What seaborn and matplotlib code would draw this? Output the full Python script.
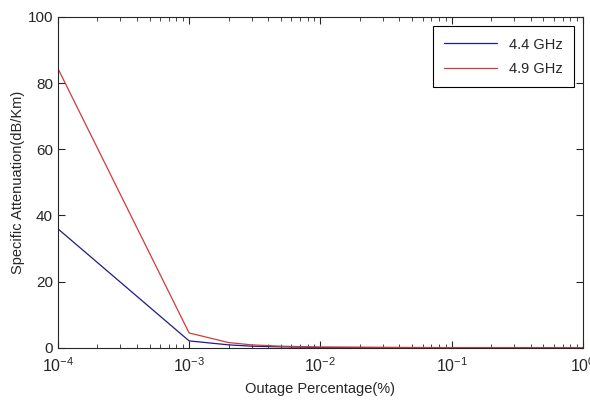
import numpy as np
import pandas as pd
import matplotlib
matplotlib.use("Agg")
import matplotlib.pyplot as plt
import seaborn as sns
from matplotlib.ticker import LogLocator, FixedLocator

outage = [1e-4, 1e-3, 2e-3, 3e-3, 5e-3, 1e-2, 1e-1, 1.0]
att_44 = [36.0, 2.1, 0.9, 0.5, 0.3, 0.12, 0.03, 0.01]
att_49 = [84.5, 4.5, 1.6, 0.9, 0.5, 0.25, 0.06, 0.02]
labels = ["4.4 GHz", "4.9 GHz"]
colors = ["#1c1c8a", "#d23a3a"]

df = pd.concat([
    pd.DataFrame({"x": outage, "y": att_44, "f": labels[0]}),
    pd.DataFrame({"x": outage, "y": att_49, "f": labels[1]}),
])

sns.set_style("ticks")
plt.rcParams["font.family"] = ["Liberation Sans", "DejaVu Sans"]
plt.rcParams["mathtext.default"] = "regular"

fig = plt.figure(figsize=(5.9, 4.04), dpi=100)
ax = fig.add_axes([0.098, 0.139, 0.890, 0.819])
sns.lineplot(data=df, x="x", y="y", hue="f", palette=colors, ax=ax,
             linewidth=0.9, estimator=None, sort=False)
ax.set_xscale("log")
ax.set_xlim(1e-4, 1)
ax.set_ylim(0, 100)
ax.set_yticks([0, 20, 40, 60, 80, 100])
ax.xaxis.set_major_locator(FixedLocator([1e-4, 1e-3, 1e-2, 1e-1, 1]))
ax.xaxis.set_minor_locator(LogLocator(base=10, subs=np.arange(2, 10)))
ax.tick_params(which="both", direction="in", top=True, right=True, labelsize=11)
ax.tick_params(axis="x", which="major", pad=6, labelsize=11.5)
ax.tick_params(which="major", length=5)
ax.tick_params(which="minor", length=3)
for s in ax.spines.values():
    s.set_linewidth(0.8)
ax.set_xlabel("Outage Percentage(%)", fontsize=10.5, labelpad=5)
ax.set_ylabel("Specific Attenuation(dB/Km)", fontsize=10.5, labelpad=2)
leg = ax.legend(loc="upper right", fontsize=10.5, frameon=True, fancybox=False,
                edgecolor="black", framealpha=1, borderpad=0.8, labelspacing=0.7,
                handlelength=3.6, borderaxespad=0,
                bbox_to_anchor=(0.983, 0.973))
leg.get_frame().set_linewidth(0.8)
fig.savefig("out.png", dpi=100)
